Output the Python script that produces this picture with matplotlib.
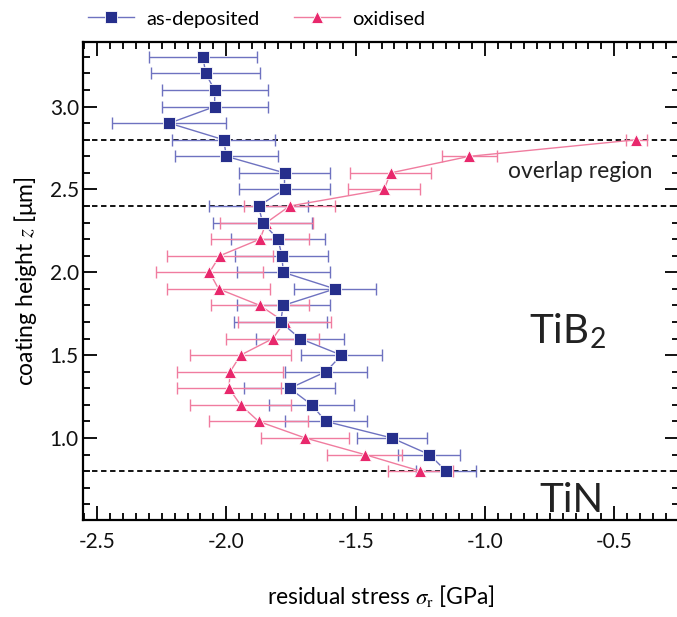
import matplotlib
matplotlib.use("Agg")
import matplotlib.pyplot as plt
from matplotlib.ticker import MultipleLocator

# as-deposited (squares)
z_dep = [3.3, 3.2, 3.1, 3.0, 2.9, 2.8, 2.7, 2.6, 2.5, 2.4, 2.3, 2.2, 2.1,
         2.0, 1.9, 1.8, 1.7, 1.6, 1.5, 1.4, 1.3, 1.2, 1.1, 1.0, 0.9, 0.8]
s_dep = [-2.09, -2.08, -2.045, -2.045, -2.22, -2.01, -2.00, -1.775, -1.775,
         -1.875, -1.86, -1.80, -1.785, -1.78, -1.58, -1.78, -1.79, -1.715,
         -1.555, -1.615, -1.755, -1.67, -1.615, -1.36, -1.215, -1.15]
e_dep = [0.21, 0.21, 0.205, 0.205, 0.22, 0.20, 0.20, 0.175, 0.175, 0.19,
         0.19, 0.18, 0.18, 0.18, 0.16, 0.18, 0.18, 0.17, 0.155, 0.16, 0.175,
         0.165, 0.16, 0.135, 0.12, 0.115]

# oxidised (triangles)
z_ox = [2.8, 2.7, 2.6, 2.5, 2.4, 2.3, 2.2, 2.1, 2.0, 1.9, 1.8, 1.7, 1.6,
        1.5, 1.4, 1.3, 1.2, 1.1, 1.0, 0.9, 0.8]
s_ox = [-0.415, -1.06, -1.365, -1.39, -1.755, -1.845, -1.87, -2.025, -2.065,
        -2.03, -1.87, -1.775, -1.82, -1.945, -1.985, -1.99, -1.945, -1.875,
        -1.695, -1.465, -1.25]
e_ox = [0.04, 0.105, 0.155, 0.14, 0.175, 0.18, 0.19, 0.205, 0.205, 0.2,
        0.19, 0.18, 0.18, 0.195, 0.205, 0.2, 0.195, 0.19, 0.17, 0.145, 0.125]

boundaries = [2.8, 2.4, 0.8]

plt.rcParams['font.family'] = ['Lato', 'DejaVu Sans']
plt.rcParams['mathtext.fontset'] = 'stix'

fig = plt.figure(figsize=(6.77, 6.17), dpi=100)
ax = fig.add_axes([83/677, 97/617, (679-83)/677, (520-42)/617])

blue = '#262f8c'
blue_l = '#6e72c0'
pink = '#e8286c'
pink_l = '#f07c9f'

ax.errorbar(s_dep, z_dep, xerr=e_dep, fmt='none', ecolor=blue_l,
            elinewidth=1.0, capsize=4.5, capthick=1.0, zorder=2)
ax.errorbar(s_ox, z_ox, xerr=e_ox, fmt='none', ecolor=pink_l,
            elinewidth=1.0, capsize=4.5, capthick=1.0, zorder=2)
ax.plot(s_dep, z_dep, '-', color=blue_l, lw=1.0, marker='s', ms=8,
        mfc=blue, mec='white', mew=0.6, label='as-deposited', zorder=4)
ax.plot(s_ox, z_ox, '-', color=pink_l, lw=1.0, marker='^', ms=9,
        mfc=pink, mec='white', mew=0.6, label='oxidised', zorder=3)

for b in boundaries:
    ax.axhline(b, color='black', lw=1.3, ls=(0, (3, 2)), zorder=1)

ax.text(-0.63, 2.607, 'overlap region', fontsize=16.5, ha='center',
        va='center', color='#222222')
ax.text(-0.68, 1.57, 'TiB$_\\mathregular{2}$', fontsize=29, ha='center',
        va='baseline', color='#222222')
ax.text(-0.665, 0.553, 'TiN', fontsize=29, ha='center', va='baseline',
        color='#222222')

ax.set_xlim(-2.554, -0.25)
ax.set_ylim(0.505, 3.39)
ax.xaxis.set_major_locator(MultipleLocator(0.5))
ax.xaxis.set_minor_locator(MultipleLocator(0.05))
ax.yaxis.set_major_locator(MultipleLocator(0.5))
ax.yaxis.set_minor_locator(MultipleLocator(0.1))
ax.xaxis.set_major_formatter(plt.FuncFormatter(lambda v, p: f'{v:.1f}'))
ax.yaxis.set_major_formatter(plt.FuncFormatter(lambda v, p: f'{v:.1f}'))
ax.tick_params(which='both', direction='in', top=True, right=True,
               width=1.4, labelsize=15, colors='#111111')
ax.tick_params(which='major', length=10)
ax.tick_params(which='minor', length=5)
ax.tick_params(axis='x', pad=9)
ax.tick_params(axis='y', pad=3)
for sp in ax.spines.values():
    sp.set_linewidth(1.6)

ax.set_xlabel('residual stress $\\sigma_\\mathrm{r}$ [GPa]', fontsize=16.5,
              labelpad=22)
ax.set_ylabel('coating height $z$ [μm]', fontsize=16.5, labelpad=8)

ax.legend(loc='lower left', bbox_to_anchor=(-0.012, 1.005), ncol=2,
          frameon=False, fontsize=14.5, handlelength=2.3, handletextpad=0.6,
          columnspacing=1.7, borderaxespad=0.2)

fig.savefig('out.png', dpi=100)
